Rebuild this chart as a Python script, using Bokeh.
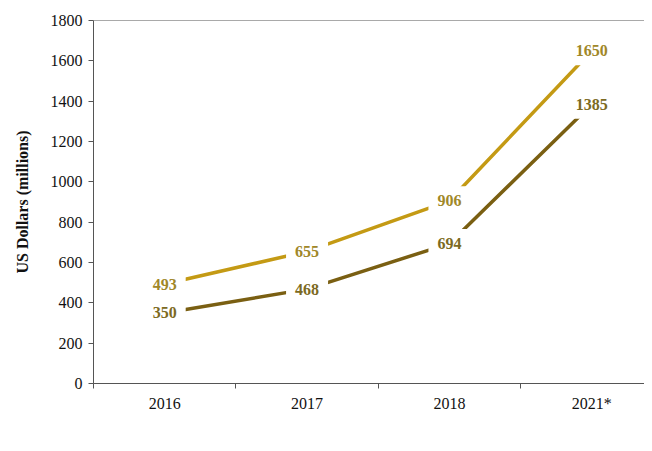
from bokeh.plotting import figure
from bokeh.models import (Range1d, FixedTicker, LinearAxis, Legend, LegendItem,
                          ColumnDataSource, Span)
from bokeh.core.properties import value
from bokeh.embed import file_html
from bokeh.resources import INLINE

years = ["2016", "2017", "2018", "2021*"]
total = [493, 655, 906, 1650]
media = [350, 468, 694, 1385]

y_ticks = [0, 200, 400, 600, 800, 1000, 1200, 1400, 1600, 1800]

C_TOTAL = "#C49A14"
C_MEDIA = "#7A5F12"
L_TOTAL = "#A08728"
L_MEDIA = "#7C6A22"
FONT = "Liberation Serif"

xs = list(range(len(years)))

src = ColumnDataSource(dict(
    x=xs, total=total, media=media,
    total_lbl=[str(v) for v in total], media_lbl=[str(v) for v in media]))

p = figure(width=644, height=443, frame_width=551, frame_height=363,
           output_backend="svg", toolbar_location=None,
           x_range=Range1d(-0.5, 3.37), y_range=Range1d(0, 1800),
           min_border_left=93, min_border_right=0, min_border_top=20,
           min_border_bottom=0, x_axis_location=None, y_axis_location=None)
p.outline_line_color = None
p.xgrid.grid_line_color = None
p.ygrid.grid_line_color = None
p.background_fill_color = "white"
p.border_fill_color = "white"

r1 = p.line("x", "total", source=src, line_color=C_TOTAL, line_width=3.5)
r2 = p.line("x", "media", source=src, line_color=C_MEDIA, line_width=3.5)

for col, lbl, color in [("total", "total_lbl", L_TOTAL), ("media", "media_lbl", L_MEDIA)]:
    p.text(x="x", y=col, text=lbl, source=src, text_align="center",
           text_baseline="middle", text_font=value(FONT), text_font_style="bold",
           text_font_size="16px", text_color=color,
           background_fill_color="white", padding=9)

# x axis
xaxis = LinearAxis(ticker=FixedTicker(ticks=xs, minor_ticks=[-0.5, 0.5, 1.5, 2.5]))
xaxis.major_label_overrides = {i: y for i, y in enumerate(years)}
xaxis.major_tick_line_color = None
xaxis.major_tick_out = 0
xaxis.major_tick_in = 0
xaxis.minor_tick_out = 5
xaxis.minor_tick_in = 0
xaxis.minor_tick_line_color = "#555555"
xaxis.axis_line_color = "#555555"
xaxis.major_label_standoff = 6
xaxis.major_label_text_font = FONT
xaxis.major_label_text_font_size = "16px"
xaxis.major_label_text_color = "#111111"
p.add_layout(xaxis, "below")

# y axis
yaxis = LinearAxis(ticker=FixedTicker(ticks=y_ticks, minor_ticks=[]))
yaxis.axis_label = "US Dollars (millions)"
yaxis.axis_label_text_font = FONT
yaxis.axis_label_text_font_style = "bold"
yaxis.axis_label_text_font_size = "16px"
yaxis.axis_label_text_color = "#111111"
yaxis.axis_label_standoff = 17
yaxis.major_tick_out = 5
yaxis.major_tick_in = 0
yaxis.major_tick_line_color = "#555555"
yaxis.axis_line_color = "#555555"
yaxis.major_label_standoff = 6
yaxis.major_label_text_font = FONT
yaxis.major_label_text_font_size = "16px"
yaxis.major_label_text_color = "#111111"
p.add_layout(yaxis, "left")

# top border line
p.add_layout(Span(location=y_ticks[-1], dimension="width",
                  line_color="#555555", line_width=1))

legend = Legend(items=[
    LegendItem(label="Revenues - eSports market (total)", renderers=[r1]),
    LegendItem(label="Revenues - Media investments", renderers=[r2]),
], orientation="horizontal", location="center",
    glyph_width=27, glyph_height=16, label_standoff=1, spacing=6,
    padding=0, margin=0, border_line_color=None, background_fill_alpha=0,
    label_text_font=FONT, label_text_font_size="16px", label_text_color="#333333")
p.add_layout(legend, "below")

open("out.html", "w").write(file_html(p, INLINE))
